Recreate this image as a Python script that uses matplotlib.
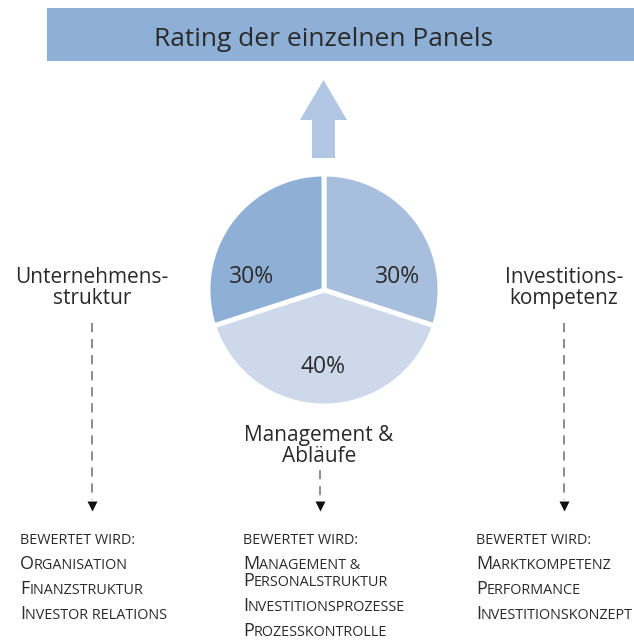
import matplotlib
matplotlib.use("Agg")
import matplotlib.pyplot as plt
from matplotlib.patches import Rectangle, FancyArrow

plt.rcParams['font.family'] = ['Open Sans', 'DejaVu Sans']
plt.rcParams['font.weight'] = 'normal'

W, H = 634, 641
title = "Rating der einzelnen Panels"
shares = [30, 40, 30]  # right, bottom, left (clockwise from top)
share_colors = ['#a8bedd', '#cdd9eb', '#8fb0d6']
panels = ["Investitions-\nkompetenz", "Management &\nAbläufe", "Unternehmens-\nstruktur"]
header = "bewertet wird:"
items_left = ["Organisation", "Finanzstruktur", "Investor relations"]
items_mid = ["Management &\nPersonalstruktur", "Investitionsprozesse", "Prozesskontrolle"]
items_right = ["Marktkompetenz", "Performance", "Investitionskonzept"]

fig = plt.figure(figsize=(W / 100, H / 100), dpi=100)
ax = fig.add_axes([0, 0, 1, 1])

def Y(v):
    return H - v

cx, cy, R = 324, 290, 116
ax.pie(shares, startangle=90, counterclock=False, colors=share_colors,
       center=(cx, Y(cy)), radius=R,
       wedgeprops=dict(edgecolor='white', linewidth=3.5))
ax.set_xlim(0, W)
ax.set_ylim(0, H)
ax.set_aspect('auto')
ax.axis('off')

txtc = '#2a2a2a'
# percent labels
for s, (px, py) in zip(shares, [(397, 277), (323, 367), (252, 277)]):
    ax.text(px, Y(py), f"{s}%", ha='center', va='center', fontsize=16.5, color=txtc)

# banner
ax.add_patch(Rectangle((47, Y(61)), W, 53, color='#8fb0d6', lw=0))
ax.text(324, Y(40), title, ha='center', va='center', fontsize=19, color=txtc)

# arrow
ax.add_patch(FancyArrow(323.5, Y(158), 0, 78, width=23, head_width=47, head_length=40,
                        length_includes_head=True, color='#b0c6e2', lw=0))

# panel labels
lab_fs = 15
ax.text(92, Y(288), panels[2], ha='center', va='center', fontsize=lab_fs, color=txtc, linespacing=1.0)
ax.text(564, Y(288), panels[0], ha='center', va='center', fontsize=lab_fs, color=txtc, linespacing=1.0)
ax.text(319, Y(446), panels[1], ha='center', va='center', fontsize=lab_fs, color=txtc, linespacing=1.0)

# dashed connectors
for x, y0 in [(92, 323), (320, 470), (564, 323)]:
    ax.plot([x, x], [Y(y0), Y(500)], ls=(0, (6, 4.5)), color='#6e6e6e', lw=1.1)
    ax.plot([x], [Y(506)], marker='v', ms=6.5, color='#111111', mec='none')

fig.canvas.draw()
renderer = fig.canvas.get_renderer()

def smallcaps(x, y, text, big=12.9, small=10.4):
    runs = []
    for ch in text:
        size = big if ch.isupper() else small
        if runs and runs[-1][1] == size:
            runs[-1][0] += ch.upper()
        else:
            runs.append([ch.upper(), size])
    cur = x
    for s, size in runs:
        t = ax.text(cur, y, s, ha='left', va='baseline', fontsize=size, color=txtc)
        bb = t.get_window_extent(renderer=renderer)
        cur = cur + bb.width

def column(x, items, ytop):
    smallcaps(x, Y(ytop), header)
    y = ytop + 25
    for it in items:
        lines = it.split('\n')
        for i, ln in enumerate(lines):
            smallcaps(x, Y(y), ln)
            y += 17 if i < len(lines) - 1 else 25

column(20, items_left, 544)
column(243, items_mid, 544)
column(476, items_right, 544)

fig.savefig("out.png", dpi=100)
